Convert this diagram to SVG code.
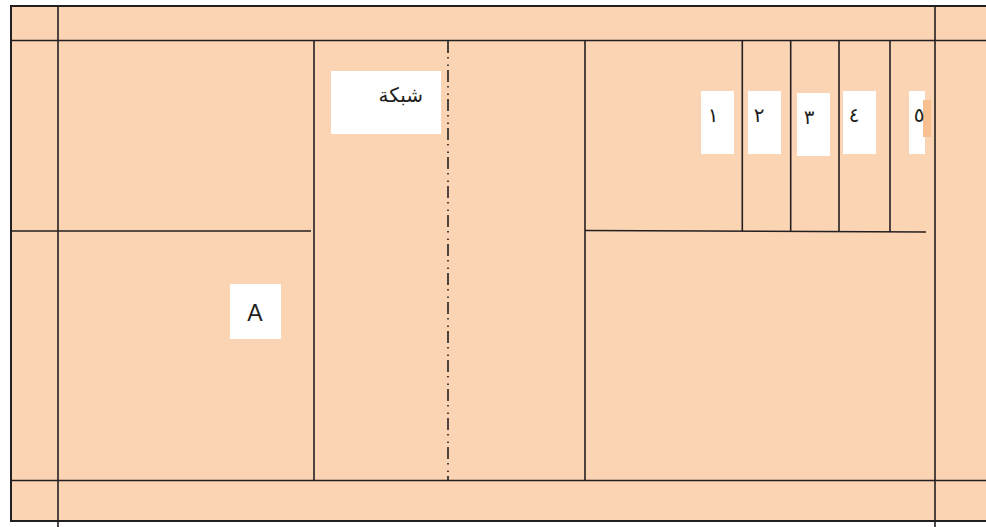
<svg xmlns="http://www.w3.org/2000/svg" width="986" height="527" viewBox="0 0 986 527">
<style>
.ln{stroke:#231F20;stroke-width:1.6;fill:none}
.box{fill:#FFFFFF}
.ar{font-family:"DejaVu Sans","Noto Sans",sans-serif;font-size:20px;fill:#231F20}
.lat{font-family:"Liberation Sans",Arial,sans-serif;font-size:23px;fill:#231F20}
</style>
<rect x="0" y="0" width="986" height="527" fill="#FFFFFF"/>
<g id="court">
<rect x="11" y="6" width="986" height="515" fill="#FBD4B4" stroke="#231F20" stroke-width="2"/>
</g>
<g id="lines">
<line class="ln" x1="58" y1="6" x2="58" y2="527"/>
<line class="ln" x1="935" y1="6" x2="935" y2="527"/>
<line class="ln" x1="11" y1="40.5" x2="986" y2="40.5"/>
<line class="ln" x1="11" y1="480.5" x2="986" y2="480.5"/>
<line class="ln" x1="11" y1="231" x2="311" y2="231"/>
<line class="ln" x1="314" y1="40.5" x2="314" y2="480.5"/>
<line class="ln" x1="585" y1="40.5" x2="585" y2="480.5"/>
<line class="ln" x1="585" y1="230.5" x2="926" y2="232"/>
<line class="ln" x1="742.3" y1="40.5" x2="742.3" y2="231"/>
<line class="ln" x1="790.7" y1="40.5" x2="790.7" y2="231"/>
<line class="ln" x1="839" y1="40.5" x2="839" y2="231"/>
<line class="ln" x1="890" y1="40.5" x2="890" y2="232"/>
<line class="ln" x1="448" y1="41" x2="448" y2="480" stroke-dasharray="12 4 1.5 6 1.5 4"/>
</g>
<g id="net-label">
<rect class="box" x="331" y="71" width="110" height="63"/>
<text class="ar" x="423" y="102" text-anchor="end">شبكة</text>
</g>
<g id="label-A">
<rect class="box" x="230" y="284" width="51" height="55"/>
<text class="lat" x="255" y="321" text-anchor="middle">A</text>
</g>
<g id="label-1">
<rect class="box" x="701" y="91" width="33" height="63"/>
<text class="ar" x="713" y="122" text-anchor="middle">١</text>
</g>
<g id="label-2">
<rect class="box" x="748" y="91" width="33" height="63"/>
<text class="ar" x="759" y="122" text-anchor="middle">٢</text>
</g>
<g id="label-3">
<rect class="box" x="797" y="93" width="33" height="63"/>
<text class="ar" x="809" y="124" text-anchor="middle">٣</text>
</g>
<g id="label-4">
<rect class="box" x="843" y="91" width="33" height="63"/>
<text class="ar" x="854" y="122" text-anchor="middle">٤</text>
</g>
<g id="label-5">
<rect class="box" x="909" y="91" width="16" height="63"/>
<rect x="923" y="100" width="8" height="37" fill="#F7C08E"/>
<text class="ar" x="919" y="122" text-anchor="middle">٥</text>
</g>
</svg>
